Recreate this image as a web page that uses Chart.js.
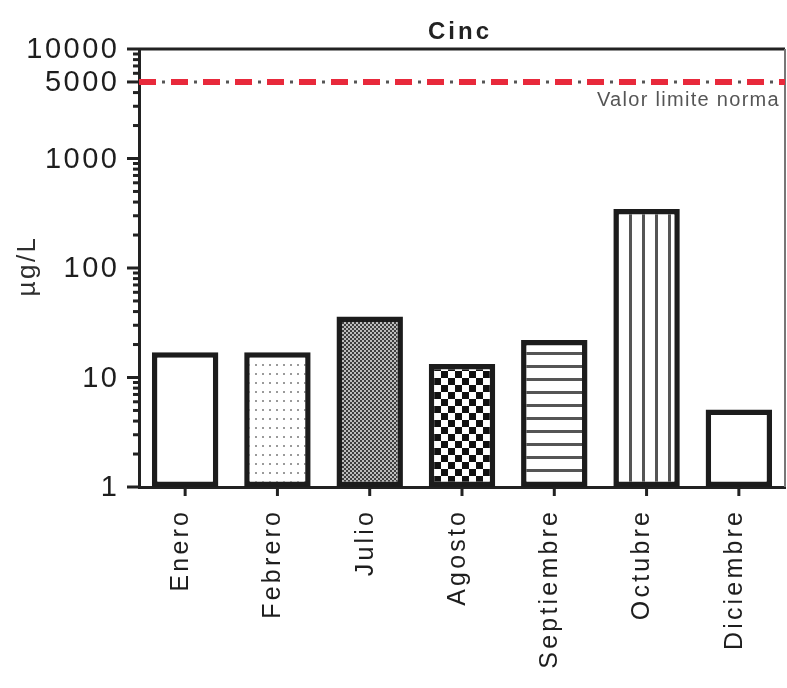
<!DOCTYPE html>
<html>
<head>
<meta charset="utf-8">
<script src="https://cdn.jsdelivr.net/npm/chart.js@4/dist/chart.umd.min.js"></script>
<style>
  html, body { margin: 0; padding: 0; background: #ffffff; }
  #wrap { width: 787px; height: 688px; }
</style>
</head>
<body>
<div id="wrap"><canvas id="c" width="787" height="688"></canvas></div>
<script>
// ---- Data ----
const chartTitle = 'Cinc';
const yAxisTitle = 'µg/L';
const categories = ['Enero', 'Febrero', 'Julio', 'Agosto', 'Septiembre', 'Octubre', 'Diciembre'];
const zincValues = [17, 17, 36, 13.3, 22, 345, 5.1];
const yTickLabels = [1, 10, 100, 1000, 5000, 10000];
const yMinorDecades = [1, 10, 100, 1000];
const limitValue = 5000;
const limitLabel = 'Valor limite norma';

// ---- Fill patterns ----
function makePattern(w, h, draw) {
  const cv = document.createElement('canvas');
  cv.width = w; cv.height = h;
  const g = cv.getContext('2d');
  g.fillStyle = '#ffffff';
  g.fillRect(0, 0, w, h);
  draw(g);
  return g.createPattern(cv, 'repeat');
}
const ctx = document.getElementById('c').getContext('2d');
const fills = [
  '#ffffff',
  makePattern(7, 9, g => { g.fillStyle = '#9a9a9a'; g.fillRect(3, 4, 2, 2); }),
  makePattern(4, 4, g => { g.fillStyle = '#bdbdbd'; g.fillRect(0, 0, 4, 4); g.fillStyle = '#3e3e3e'; g.fillRect(0, 0, 2, 2); g.fillRect(2, 2, 2, 2); }),
  makePattern(14, 14, g => { g.fillStyle = '#111111'; g.fillRect(0, 0, 7, 7); g.fillRect(7, 7, 7, 7); }),
  makePattern(1, 13, g => { g.fillStyle = '#555555'; g.fillRect(0, 1, 1, 3); }),
  makePattern(13, 1, g => { g.fillStyle = '#555555'; g.fillRect(5, 0, 3, 1); }),
  '#ffffff'
];

// ---- Custom drawing (ticks, labels, limit line) ----
const decor = {
  id: 'decor',
  afterDraw(chart) {
    const c = chart.ctx;
    const xs = chart.scales.x, ys = chart.scales.y;
    const area = chart.chartArea;
    c.save();
    c.fillStyle = '#1e1e1e';
    c.strokeStyle = '#222222';

    // top and right frame
    c.lineWidth = 3;
    c.beginPath(); c.moveTo(area.left, area.top); c.lineTo(area.right, area.top); c.stroke();
    c.strokeStyle = '#777777';
    c.lineWidth = 2;
    c.beginPath(); c.moveTo(area.right, area.top); c.lineTo(area.right, area.bottom); c.stroke();

    // y ticks (minor + major)
    c.strokeStyle = '#222222';
    c.lineWidth = 3;
    const tickVals = [];
    yMinorDecades.forEach(d => { for (let k = 1; k <= 9; k++) tickVals.push(k * d); });
    tickVals.push(10000);
    tickVals.forEach(v => {
      const y = ys.getPixelForValue(v);
      const len = yTickLabels.includes(v) ? 12 : 6;
      c.beginPath(); c.moveTo(area.left - len, y); c.lineTo(area.left, y); c.stroke();
    });

    // y labels
    c.font = '29px "Liberation Sans", Arial, sans-serif';
    c.letterSpacing = '2.5px';
    c.textAlign = 'right';
    c.textBaseline = 'middle';
    yTickLabels.forEach(v => {
      const y = ys.getPixelForValue(v);
      c.fillText(String(v), 117 + 2.5, y + 1);
    });

    // x ticks and labels
    c.lineWidth = 3;
    c.font = '25px "Liberation Sans", Arial, sans-serif';
    c.letterSpacing = '3.2px';
    categories.forEach((lab, i) => {
      const x = xs.getPixelForValue(i);
      c.beginPath(); c.moveTo(x, area.bottom); c.lineTo(x, area.bottom + 9); c.stroke();
      c.save();
      c.translate(x - 4, area.bottom + 25);
      c.rotate(-Math.PI / 2);
      c.textAlign = 'right';
      c.textBaseline = 'middle';
      c.fillText(lab, 3.2, 0);
      c.restore();
    });

    // limit line: red dashes with grey dots between
    const ly = ys.getPixelForValue(limitValue);
    c.lineCap = 'butt';
    c.strokeStyle = '#555555';
    c.lineWidth = 3;
    c.setLineDash([3, 29]);
    c.lineDashOffset = 9;
    c.beginPath(); c.moveTo(area.left, ly); c.lineTo(area.right, ly); c.stroke();
    c.strokeStyle = '#e8293b';
    c.lineWidth = 6;
    c.setLineDash([17, 15]);
    c.lineDashOffset = 0;
    c.beginPath(); c.moveTo(area.left, ly); c.lineTo(area.right, ly); c.stroke();
    c.setLineDash([]);

    // limit label
    c.fillStyle = '#555555';
    c.font = '20px "Liberation Sans", Arial, sans-serif';
    c.letterSpacing = '1.3px';
    c.textAlign = 'right';
    c.textBaseline = 'alphabetic';
    c.fillText(limitLabel, area.right - 5, ly + 24);

    // title
    c.fillStyle = '#222222';
    c.font = 'bold 24px "Liberation Sans", Arial, sans-serif';
    c.letterSpacing = '3px';
    c.textAlign = 'center';
    c.textBaseline = 'middle';
    c.fillText(chartTitle, (area.left + area.right) / 2 - 2, 32);

    // y axis title
    c.font = '26px "Liberation Sans", Arial, sans-serif';
    c.letterSpacing = '2.5px';
    c.fillStyle = '#2e2e2e';
    c.save();
    c.translate(28, (area.top + area.bottom) / 2 - 2);
    c.rotate(-Math.PI / 2);
    c.textAlign = 'center';
    c.textBaseline = 'middle';
    c.fillText(yAxisTitle, 0, 0);
    c.restore();

    c.restore();
  }
};

new Chart(ctx, {
  type: 'bar',
  data: {
    labels: categories,
    datasets: [{
      label: chartTitle,
      data: zincValues,
      backgroundColor: fills,
      borderColor: '#1c1c1c',
      borderWidth: 5.5,
      borderSkipped: false,
      categoryPercentage: 1,
      barPercentage: 0.72
    }]
  },
  options: {
    responsive: false,
    animation: false,
    devicePixelRatio: 1,
    layout: { padding: { top: 49, right: 2, left: 0, bottom: 0 } },
    plugins: { legend: { display: false }, tooltip: { enabled: false }, title: { display: false } },
    scales: {
      x: {
        grid: { display: false },
        border: { display: true, width: 3, color: '#222222' },
        ticks: { display: false },
        afterFit(s) { s.height = 201; }
      },
      y: {
        type: 'logarithmic',
        min: 1,
        max: 10000,
        grid: { display: false },
        border: { display: true, width: 3, color: '#222222' },
        ticks: { display: false },
        afterFit(s) { s.width = 139; }
      }
    }
  },
  plugins: [decor]
});
</script>
</body>
</html>
